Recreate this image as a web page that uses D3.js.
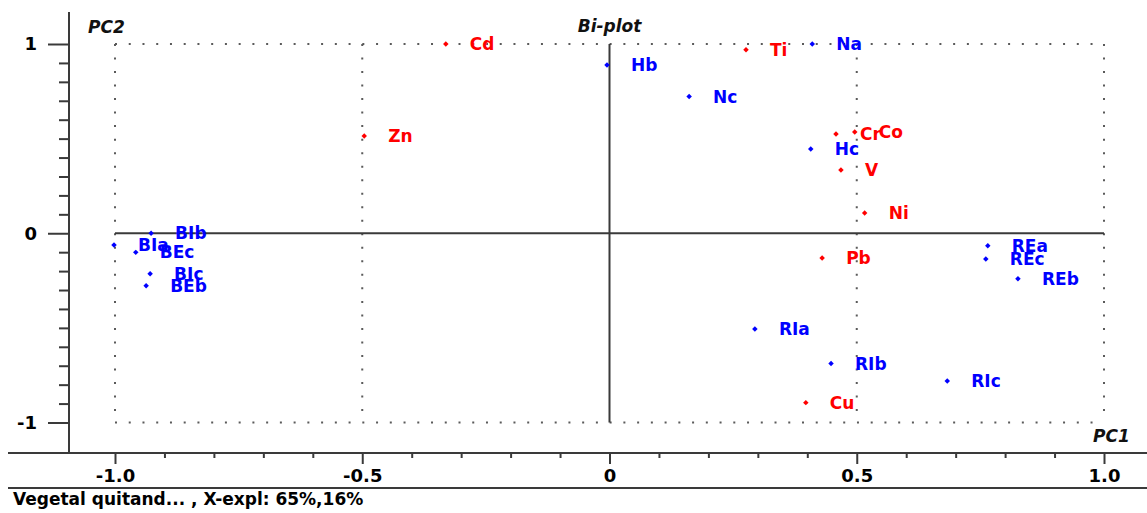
<!DOCTYPE html>
<html>
<head>
<meta charset="utf-8">
<script src="https://cdn.jsdelivr.net/npm/d3@7"></script>
<style>
  html, body { margin: 0; padding: 0; background: #fff; }
  svg { display: block; font-family: "DejaVu Sans", sans-serif; }
</style>
</head>
<body>
<svg id="chart" width="1147" height="513"></svg>
<script>
// Variables (loadings) – red
const varNames = ["Cd", "Ti", "Zn", "Cr", "Co", "V", "Ni", "Pb", "Cu"];
const varPC1   = [-0.331, 0.276, -0.496, 0.458, 0.496, 0.468, 0.516, 0.430, 0.397];
const varPC2   = [1.000, 0.970, 0.514, 0.524, 0.535, 0.334, 0.107, -0.131, -0.895];

// Samples (scores) – blue
const sampleNames = ["Na", "Hb", "Nc", "Hc", "REa", "REc", "REb", "RIa", "RIb", "RIc",
                     "BIa", "BEc", "BIb", "BIc", "BEb"];
const samplePC1   = [0.410, -0.005, 0.161, 0.407, 0.765, 0.761, 0.826, 0.294, 0.448, 0.683,
                     -1.002, -0.958, -0.927, -0.929, -0.937];
const samplePC2   = [1.000, 0.889, 0.722, 0.445, -0.066, -0.136, -0.240, -0.506, -0.688, -0.781,
                     -0.062, -0.101, 0.000, -0.214, -0.277];

// Axis ticks
const xMajorTicks = [-1.0, -0.5, 0, 0.5, 1.0];
const xTickLabels = ["-1.0", "-0.5", "0", "0.5", "1.0"];
const yMajorTicks = [-1, 0, 1];
const yTickLabels = ["-1", "0", "1"];
const gridX = [-1.0, -0.5, 0.5, 1.0];
const gridY = [-1, 1];

const footerText = "Vegetal quitand... , X-expl: 65%,16%";

const W = 1147, H = 513;
const svg = d3.select("#chart");

const x = d3.scaleLinear().domain([-1, 1]).range([115, 1104]);
const y = d3.scaleLinear().domain([-1, 1]).range([422.5, 44]);

const frameLeft = 69, frameTop = 12, frameBottom = 453, footerLine = 488, lineStart = 8;
const axisColor = "#3a3a3a";

// dotted reference grid
const dotColor = "#5a5a5a";
svg.append("g").selectAll("line.gx").data(gridX).join("line")
  .attr("x1", d => x(d)).attr("x2", d => x(d))
  .attr("y1", y(1)).attr("y2", y(-1))
  .attr("stroke", dotColor).attr("stroke-width", 2)
  .attr("stroke-dasharray", "2,11.52");
svg.append("g").selectAll("line.gy").data(gridY).join("line")
  .attr("y1", d => y(d)).attr("y2", d => y(d))
  .attr("x1", x(-1)).attr("x2", x(1))
  .attr("stroke", dotColor).attr("stroke-width", 2)
  .attr("stroke-dasharray", "2,11.74");

// origin cross
svg.append("line").attr("x1", x(0)).attr("x2", x(0)).attr("y1", y(1)).attr("y2", y(-1))
  .attr("stroke", axisColor).attr("stroke-width", 2);
svg.append("line").attr("x1", x(-1)).attr("x2", x(1)).attr("y1", y(0)).attr("y2", y(0))
  .attr("stroke", axisColor).attr("stroke-width", 2);

// frame axes
const xMinor = d3.range(-10, 11).map(i => i / 10).filter(v => Math.abs(v * 2 - Math.round(v * 2)) > 1e-6);
const yMinor = d3.range(-10, 11).map(i => i / 10).filter(v => Math.abs(v - Math.round(v)) > 1e-6);

function styleAxis(g) {
  g.select(".domain").remove();
  g.selectAll(".tick line").attr("stroke", axisColor).attr("stroke-width", 2);
}

const bottomMinor = svg.append("g").attr("transform", `translate(0,${frameBottom})`)
  .call(d3.axisBottom(x).tickValues(xMinor).tickSize(5).tickFormat(""));
styleAxis(bottomMinor);
const bottomMajor = svg.append("g").attr("transform", `translate(0,${frameBottom})`)
  .call(d3.axisBottom(x).tickValues(xMajorTicks).tickSize(11).tickPadding(3)
        .tickFormat((d, i) => xTickLabels[i]));
styleAxis(bottomMajor);
bottomMajor.selectAll(".tick text")
  .attr("font-family", "DejaVu Sans, sans-serif").attr("font-size", 18)
  .attr("font-weight", "bold").attr("fill", "#000").attr("dy", "0.85em");

const leftMinor = svg.append("g").attr("transform", `translate(${frameLeft},0)`)
  .call(d3.axisLeft(y).tickValues(yMinor).tickSize(10).tickFormat(""));
styleAxis(leftMinor);
const leftMajor = svg.append("g").attr("transform", `translate(${frameLeft},0)`)
  .call(d3.axisLeft(y).tickValues(yMajorTicks).tickSize(21).tickPadding(11)
        .tickFormat((d, i) => yTickLabels[i]));
styleAxis(leftMajor);
leftMajor.selectAll(".tick text")
  .attr("font-family", "DejaVu Sans, sans-serif").attr("font-size", 18)
  .attr("font-weight", "bold").attr("fill", "#000");

svg.append("line").attr("x1", frameLeft).attr("x2", frameLeft)
  .attr("y1", frameTop).attr("y2", frameBottom)
  .attr("stroke", axisColor).attr("stroke-width", 2);
svg.append("line").attr("x1", lineStart).attr("x2", W)
  .attr("y1", frameBottom).attr("y2", frameBottom)
  .attr("stroke", axisColor).attr("stroke-width", 2);
svg.append("line").attr("x1", lineStart).attr("x2", W)
  .attr("y1", footerLine).attr("y2", footerLine)
  .attr("stroke", axisColor).attr("stroke-width", 2);

// titles
const titleStyle = t => t.attr("font-size", 17).attr("font-weight", "bold")
  .attr("font-style", "italic").attr("fill", "#111");
svg.append("text").attr("x", 88).attr("y", 33).text("PC2").call(titleStyle);
svg.append("text").attr("x", x(0)).attr("y", 32).attr("text-anchor", "middle").text("Bi-plot").call(titleStyle);
svg.append("text").attr("x", 1093).attr("y", 442).text("PC1").call(titleStyle);

// footer
svg.append("text").attr("x", 13).attr("y", 505)
  .attr("font-size", 17).attr("font-weight", "bold").attr("fill", "#000")
  .text(footerText);

// points and labels
const marker = d3.symbol().type(d3.symbolSquare).size(15);
function drawSet(names, pc1, pc2, color) {
  const data = names.map((n, i) => ({ name: n, pc1: pc1[i], pc2: pc2[i] }));
  const g = svg.append("g");
  g.selectAll("path").data(data).join("path")
    .attr("d", marker)
    .attr("transform", d => `translate(${x(d.pc1)},${y(d.pc2)}) rotate(45)`)
    .attr("fill", color);
  g.selectAll("text").data(data).join("text")
    .attr("x", d => x(d.pc1) + 24).attr("y", d => y(d.pc2))
    .attr("dy", "0.36em")
    .attr("font-size", 17).attr("font-weight", "bold").attr("fill", color)
    .text(d => d.name);
}
drawSet(varNames, varPC1, varPC2, "#ff0000");
drawSet(sampleNames, samplePC1, samplePC2, "#0000ff");
</script>
</body>
</html>
